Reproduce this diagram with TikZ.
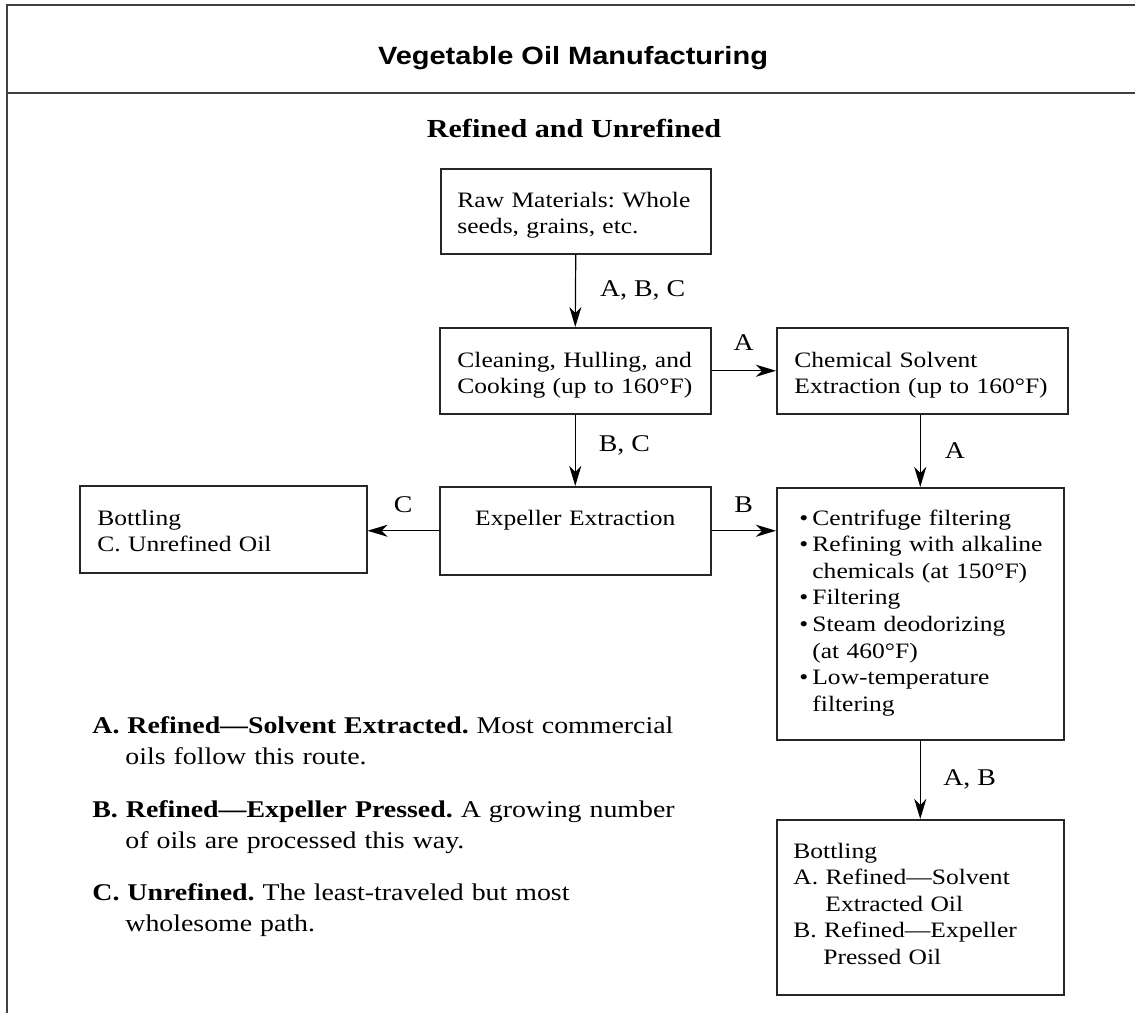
\documentclass[tikz,border=0pt]{standalone}
\usepackage{fontspec}
\setmainfont{Liberation Serif}[FakeStretch=1.16]
\newfontfamily\headfont{Liberation Sans}[FakeStretch=1.16]
\usetikzlibrary{arrows.meta}
\usetikzlibrary{calc}
\usetikzlibrary{positioning}
\frenchspacing

\begin{document}
\begin{tikzpicture}[
        x=0.5pt, y=-0.5pt, % una unidad = un pixel de la figura
        box/.style={draw=black!85, line width=0.75pt, anchor=north west, inner sep=0pt}, % Estilo para las cajas
        boxtext/.style={anchor=base west, inner sep=0pt, align=left, text width=140pt,
            font=\fontsize{11pt}{13.3pt}\selectfont}, % Texto dentro de las cajas
        flow/.style={-{Stealth[length=10pt, width=6pt, inset=3pt]}, line width=0.6pt}, % Flechas del proceso
        lbl/.style={inner sep=0pt, font=\fontsize{12pt}{14pt}\selectfont}, % Etiquetas de las rutas
        frame/.style={line width=1pt, black!75}, % Marco de la figura
        legend/.style={anchor=base west, inner sep=0pt, align=left, text width=320pt,
            font=\fontsize{12pt}{15.5pt}\selectfont} % Texto de la leyenda
    ]
        \useasboundingbox (0,0) rectangle (1135,1023);

        % --- Vinetas para la caja de refinado ---
        \def\bul{\makebox[6.5pt][l]{\textbullet}}
        \def\ind{\hspace*{6.5pt}}

        % --- Marco y titulos ---
        \draw[frame] (1135,5) -- (7,5) -- (7,1013);
        \draw[frame] (7,93) -- (1135,93);
        \node[font=\headfont\bfseries\fontsize{12.5pt}{15pt}\selectfont, anchor=base] (title) at (573,64) {Vegetable Oil Manufacturing};
        \node[font=\bfseries\fontsize{13pt}{15pt}\selectfont, anchor=base] (subtitle) at (574,137) {Refined and Unrefined};

        % --- Cajas del proceso ---
        \node[box, minimum width=135pt, minimum height=42.5pt] (raw) at (440,168) {};
        \node[boxtext] (rawtext) at ($(raw.north west)+(17,39)$) {Raw Materials: Whole\\seeds, grains, etc.};

        \node[box, minimum width=135.5pt, minimum height=43pt] (clean) at (439,327) {};
        \node[boxtext] (cleantext) at ($(clean.north west)+(18,40)$) {Cleaning, Hulling, and\\Cooking (up to 160°F)};

        \node[box, minimum width=145.5pt, minimum height=43pt] (chem) at (776,327) {};
        \node[boxtext] (chemtext) at ($(chem.north west)+(18,40)$) {Chemical Solvent\\Extraction (up to 160°F)};

        \node[box, minimum width=135.5pt, minimum height=44pt] (exp) at (439,486) {};
        \node[boxtext, anchor=base, align=center] (exptext) at ($(exp.north)+(0,39)$) {Expeller Extraction};

        \node[box, minimum width=143.5pt, minimum height=43.5pt] (botC) at (79,485) {};
        \node[boxtext] (botCtext) at ($(botC.north west)+(18,40)$) {Bottling\\C. Unrefined Oil};

        \node[box, minimum width=143.5pt, minimum height=126pt] (refine) at (776,487) {};
        \node[boxtext] (refinetext) at ($(refine.north west)+(23,38)$) {%
            \bul Centrifuge filtering\\
            \bul Refining with alkaline\\
            \ind chemicals (at 150°F)\\
            \bul Filtering\\
            \bul Steam deodorizing\\
            \ind (at 460°F)\\
            \bul Low-temperature\\
            \ind filtering};

        \node[box, minimum width=143.5pt, minimum height=87.5pt] (botAB) at (776,819) {};
        \node[boxtext] (botABtext) at ($(botAB.north west)+(17,39)$) {Bottling\\
            A. Refined---Solvent\\
            \hspace*{16pt}Extracted Oil\\
            B. Refined---Expeller\\
            \hspace*{15pt}Pressed Oil};

        % --- Flechas con las rutas A, B, C ---
        \draw[flow] (raw.south) -- (clean.north) node[lbl, midway, right=12pt] {A, B, C};
        \draw[flow] (clean.east) -- (chem.west) node[lbl, midway, above=10pt] {A};
        \draw[flow] (clean.south) -- (exp.north) node[lbl, midway, right=11.5pt, yshift=2.5pt] {B, C};
        \draw[flow] (chem.south -| refine.north) -- (refine.north) node[lbl, midway, right=12pt] {A};
        \draw[flow] (exp.east) -- (exp.east -| refine.west) node[lbl, midway, above=8.75pt] {B};
        \draw[flow] (exp.west) -- (exp.west -| botC.east) node[lbl, midway, above=8.75pt] {C};
        \draw[flow] (refine.south) -- (botAB.north) node[lbl, midway, right=11.25pt] {A, B};

        % --- Leyenda ---
        \node[legend] (legA) at (92,733) {\textbf{A. Refined---Solvent Extracted.} Most commercial\\\hspace*{16.5pt}oils follow this route.};
        \node[legend] (legB) at (92,817) {\textbf{B. Refined---Expeller Pressed.} A growing number\\\hspace*{16.5pt}of oils are processed this way.};
        \node[legend] (legC) at (92,900) {\textbf{C. Unrefined.} The least-traveled but most\\\hspace*{16.5pt}wholesome path.};

    \end{tikzpicture}
\end{document}
